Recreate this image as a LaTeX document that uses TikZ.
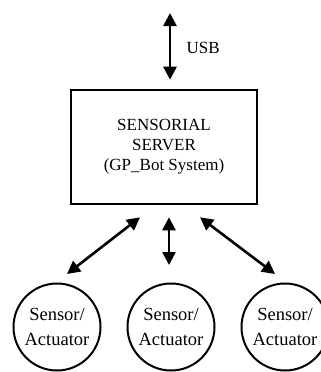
\documentclass[tikz,border=0pt]{standalone}
\usepackage{fontspec}
\setmainfont{Liberation Serif}
\usetikzlibrary{arrows.meta}
\tikzset{
  arr/.style={line width=2.6pt,{Triangle[length=13pt,width=13pt]}-{Triangle[length=13pt,width=13pt]}},
  serverbox/.style={draw,line width=2.6pt,minimum width=186pt,minimum height=114pt,align=center,font=\fontsize{17}{20}\selectfont},
  sensnode/.style={draw,circle,line width=2pt,minimum size=87pt,inner sep=0pt,align=center,font=\fontsize{18.5}{25}\selectfont}
}
\begin{document}
\begin{tikzpicture}[x=1pt,y=-1pt]
\useasboundingbox[fill=white] (0,0) rectangle (321,372);
\node[serverbox] (box) at (164,147) {SENSORIAL\\SERVER\\(GP\_Bot System)};
\coordinate (usbtop) at (170,13);
\draw[arr] (usbtop) -- ([yshift=9pt]usbtop |- box.north);
\node[anchor=west,font=\fontsize{17}{20}\selectfont] (usb) at (183,48) {USB};
\node[sensnode] (s1) at (57,327) {Sensor/\\Actuator};
\node[sensnode] (s2) at (171,327) {Sensor/\\Actuator};
\node[sensnode] (s3) at (285,327) {Sensor/\\Actuator};
\draw[arr] ([shift={(-24,12)}]box.south) -- ([shift={(10,-8.5)}]s1.north);
\draw[arr] ([shift={(5,12)}]box.south) -- ([shift={(-2,-17.5)}]s2.north);
\draw[arr] ([shift={(36,12)}]box.south) -- ([shift={(-10,-8.5)}]s3.north);
\end{tikzpicture}
\end{document}
